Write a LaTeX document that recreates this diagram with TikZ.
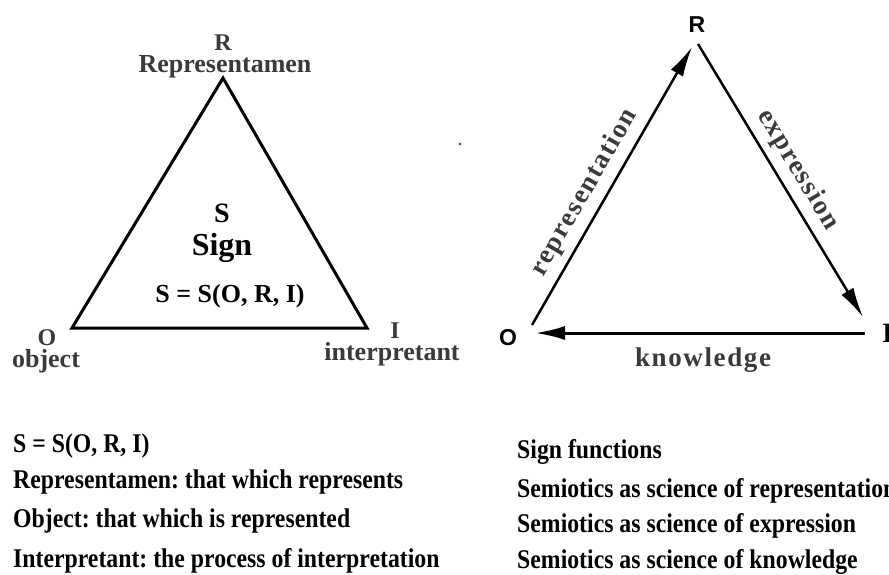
\documentclass[tikz,border=0pt]{standalone}
\usepackage{fontspec}
\setmainfont{Liberation Serif}
\newfontfamily\sansbold{Liberation Sans}
\newfontfamily\narrowserif[FakeStretch=0.88]{Liberation Serif}
\newfontfamily\spacedserif[LetterSpace=6]{Liberation Serif}
\usetikzlibrary{arrows.meta}

\definecolor{labelgray}{HTML}{3A3A3A}
\frenchspacing

\begin{document}
\begin{tikzpicture}[
		x=1pt,y=-1pt,
		>={Latex[length=30pt,width=14pt]},
		every node/.style={inner sep=0pt},
		vlabel/.style={text=labelgray, font=\fontsize{24}{26}\selectfont\bfseries},
		wlabel/.style={text=labelgray, font=\fontsize{26}{28}\selectfont\bfseries},
		funlabel/.style={text=labelgray, font=\fontsize{27}{29}\selectfont\spacedserif\bfseries},
		listline/.style={anchor=base west, font=\fontsize{27}{30}\selectfont\narrowserif\bfseries}
		]
		
		\useasboundingbox (0,0) rectangle (889,574);
		
		% =========================
		% Left: sign triangle
		% =========================
		\begin{scope}
			\coordinate (lR) at (223,78);
			\coordinate (lO) at (72,328);
			\coordinate (lI) at (367,328);
			
			\draw[line width=3pt] (lO) -- (lR) -- (lI) -- cycle;
			
			% corners
			\node[vlabel, anchor=base] (lRl) at (223,50) {R};
			\node[wlabel, anchor=base] (lRname) at (225,72) {Representamen};
			\node[vlabel, anchor=base] (lOl) at (47,345) {O};
			\node[wlabel, anchor=base] (lOname) at (46,367) {object};
			\node[vlabel, anchor=base] (lIl) at (395,338) {I};
			\node[wlabel, anchor=base] (lIname) at (392,360) {interpretant};
			
			% inside
			\node[font=\fontsize{28}{30}\selectfont\bfseries, anchor=base] (sS) at (222,222) {S};
			\node[font=\fontsize{32}{34}\selectfont\bfseries, anchor=base] (sSign) at (222,255) {Sign};
			\node[font=\fontsize{26}{28}\selectfont\bfseries, anchor=base] (sDef) at (230,302) {S = S(O, R, I)};
		\end{scope}
		
		% stray dot
		\fill[labelgray] (460,144) circle (1.3);
		
		% =========================
		% Right: sign functions
		% =========================
		\begin{scope}
			\coordinate (rO) at (532,325);
			\coordinate (rR) at (692,47);
			\coordinate (rRb) at (698,44);
			\coordinate (rI) at (863,317);
			\coordinate (rIb) at (865,333);
			\coordinate (rOb) at (535,333);
			
			\node[font=\fontsize{23}{25}\selectfont\sansbold\bfseries, anchor=base] (rRl) at (697,32) {R};
			\node[font=\fontsize{23}{25}\selectfont\sansbold\bfseries, anchor=base] (rOl) at (508,345) {O};
			\node[font=\fontsize{28}{30}\selectfont\bfseries, anchor=base west] (rIl) at (882,342) {I};
			
			\draw[->, line width=2.5pt] (rO) -- node[funlabel, pos=0.44, sloped, above=7pt] (repLab) {representation} (rR);
			\draw[->, line width=2.5pt] (rRb) -- node[funlabel, pos=0.5, sloped, above=7pt] (expLab) {expression} (rI);
			\draw[->, line width=3pt] (rIb) -- (rOb);
			\node[funlabel, anchor=base] (knowLab) at (703,366) {knowledge};
		\end{scope}
		
		% =========================
		% Bottom: legends
		% =========================
		\node[listline] (defLine) at (13,452) {S = S(O, R, I)};
		\node[listline] (repLine) at (13,488) {Representamen: that which represents};
		\node[listline] (objLine) at (13,527) {Object: that which is represented};
		\node[listline] (intLine) at (13,567) {Interpretant: the process of interpretation};
		
		\node[listline] (funLine) at (517,458) {Sign functions};
		\node[listline] (scRep) at (517,497) {Semiotics as science of representation};
		\node[listline] (scExp) at (517,532) {Semiotics as science of expression};
		\node[listline] (scKnow) at (517,568) {Semiotics as science of knowledge};
		
	\end{tikzpicture}
\end{document}
